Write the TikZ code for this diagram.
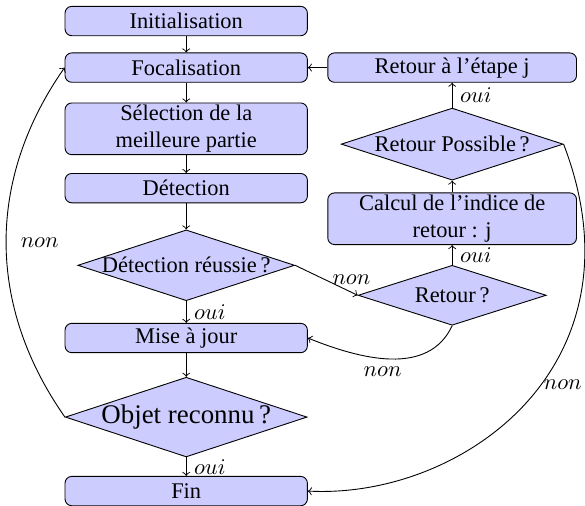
\documentclass[tikz,border=0pt]{standalone}
\usepackage{fontspec}
\setmainfont{Liberation Serif}
\usepackage{amsmath}
\usetikzlibrary{shapes.geometric, arrows.meta}

\begin{document}
\begin{tikzpicture}[>=to,
    bloc/.style={draw, fill=blue!20, rounded corners=3pt, minimum width=3.8cm, minimum height=0.46cm,
                 inner sep=1pt, align=center},
    choix/.style={draw, diamond, fill=blue!20, aspect=4, inner sep=-4pt}]
    \useasboundingbox (0,0) rectangle (9.173,-7.934);

    % Left column
    \node[bloc] (init) at (2.92,-0.33) {Initialisation};
    \node[bloc] (focal) at (2.92,-1.06) {Focalisation};
    \node[bloc] (select) at (2.92,-2.02) {Sélection de la\\ meilleure partie};
    \node[bloc] (detect) at (2.92,-2.95) {Détection};
    \node[choix, minimum width=3.40cm, minimum height=1.11cm] (reussie) at (2.92,-4.16) {Détection réussie\,?};
    \node[bloc] (maj) at (2.92,-5.30) {Mise à jour};
    \node[choix, minimum width=3.79cm, minimum height=1.25cm, font=\large] (objet) at (2.92,-6.54) {Objet reconnu\,?};
    \node[bloc] (fin) at (2.92,-7.70) {Fin};

    % Right column
    \node[bloc, minimum width=3.9cm] (etape) at (7.09,-1.06) {Retour à l'étape j};
    \node[choix, minimum width=3.48cm, minimum height=1.13cm] (possible) at (7.09,-2.26) {Retour Possible\,?};
    \node[bloc, minimum width=3.9cm] (calcul) at (7.09,-3.43) {Calcul de l'indice de\\ retour : j};
    \node[choix, minimum width=2.95cm, minimum height=0.94cm] (retour) at (7.09,-4.63) {Retour\,?};

    % Main flow
    \draw[->] (init) -- (focal);
    \draw[->] (focal) -- (select);
    \draw[->] (select) -- (detect);
    \draw[->] (detect) -- (reussie);
    \draw[->] (reussie) -- node[midway, right] {$oui$} (maj);
    \draw[->] (maj) -- (objet);
    \draw[->] (objet) -- node[midway, right] {$oui$} (fin);

    % Return branch
    \draw[->] (reussie.east) -- node[pos=0.9, above] {$non$} (retour.west);
    \draw[->] (retour) -- node[midway, right] {$oui$} (calcul);
    \draw[->] (calcul) -- (possible);
    \draw[->] (possible) -- node[midway, right] {$oui$} (etape);
    \draw[->] (etape) -- (focal);

    % Loops
    \draw[->] (objet.west) to[bend left=35] node[midway, right=3pt] {$non$} (focal.west);
    \draw[->] (retour.south) to[out=-115, in=-22] node[pos=0.55, below] {$non$} (maj.east);
    \draw[->] (possible.east) to[out=-69, in=-3, out looseness=1.4, in looseness=0.92]
        node[pos=0.45, right, inner sep=1pt] {$non$} (fin.east);

\end{tikzpicture}
\end{document}
